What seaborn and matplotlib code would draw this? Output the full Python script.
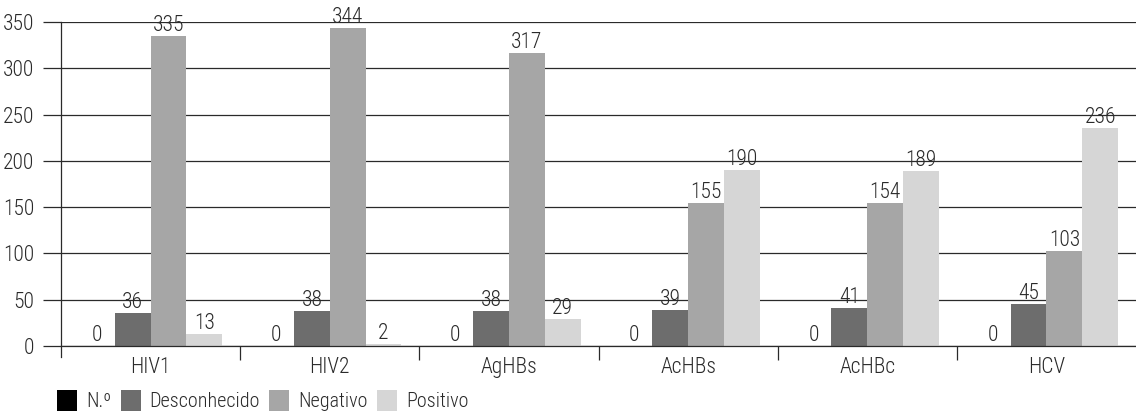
import matplotlib
matplotlib.use("Agg")
import matplotlib.pyplot as plt
import seaborn as sns
import pandas as pd
import numpy as np

categories = ["HIV1", "HIV2", "AgHBs", "AcHBs", "AcHBc", "HCV"]
series_names = ["N.º", "Desconhecido", "Negativo", "Positivo"]
n_vals = [0, 0, 0, 0, 0, 0]
desconhecido = [36, 38, 38, 39, 41, 45]
negativo = [335, 344, 317, 155, 154, 103]
positivo = [13, 2, 29, 190, 189, 236]
yticks = [0, 50, 100, 150, 200, 250, 300, 350]

colors = ["#000000", "#6d6d6d", "#a6a6a6", "#d6d6d6"]
ink = "#2a2a2a"

sns.set_theme(style="white")
plt.rcParams["font.family"] = ["Roboto Condensed", "DejaVu Sans"]
plt.rcParams["font.weight"] = 300
FS = 15.5
FS_LEG = 14.5

rows = []
for s, vals in zip(series_names, [n_vals, desconhecido, negativo, positivo]):
    for c, v in zip(categories, vals):
        rows.append({"cat": c, "serie": s, "valor": v})
df = pd.DataFrame(rows)

fig = plt.figure(figsize=(11.36, 4.12), dpi=100)
ax = fig.add_axes([61 / 1136, 1 - 346 / 412, 1 - 61 / 1136, (346 - 22) / 412])

sns.barplot(data=df, x="cat", y="valor", hue="serie", hue_order=series_names,
            order=categories, palette=colors, width=0.8, saturation=1,
            edgecolor="none", linewidth=0, ax=ax, legend=True)

ax.set_ylim(0, 350)
ax.set_xlim(-0.5, len(categories) - 0.5)
ax.set_yticks(yticks)
ax.set_yticklabels([str(t) for t in yticks], fontsize=FS, color=ink)
ax.yaxis.grid(True, color=ink, linewidth=0.9)
ax.set_axisbelow(True)
ax.tick_params(axis="y", length=13, width=0.9, color=ink, pad=6, left=True)
ax.set_xlabel("")
ax.set_ylabel("")

# category names centred under each group, separators as minor ticks
ax.set_xticks(range(len(categories)))
ax.set_xticklabels(categories, fontsize=FS, color=ink)
ax.tick_params(axis="x", which="major", length=0, pad=8)
ax.set_xticks(np.arange(0.5, len(categories) - 1, 1.0), minor=True)
ax.tick_params(axis="x", which="minor", length=10, width=0.9, color=ink, bottom=True, direction="out")

for side in ["top", "right"]:
    ax.spines[side].set_visible(False)
ax.spines["left"].set_color(ink)
ax.spines["left"].set_linewidth(0.9)
ax.spines["left"].set_bounds(-12, 350)
ax.spines["bottom"].set_color(ink)
ax.spines["bottom"].set_linewidth(0.9)

for cont in ax.containers:
    ax.bar_label(cont, labels=[f"{v:.0f}" for v in cont.datavalues],
                 fontsize=FS, color=ink, padding=0)

handles, labels = ax.get_legend_handles_labels()
ax.get_legend().remove()
fig.legend(handles, labels, loc="center left", bbox_to_anchor=(57 / 1136, 1 - 400.5 / 412),
           ncol=4, frameon=False, fontsize=FS_LEG, handlelength=1.0, handleheight=1.3,
           handletextpad=0.45, columnspacing=0.45, borderaxespad=0, borderpad=0,
           labelcolor=ink)

fig.savefig("out.png", dpi=100)
